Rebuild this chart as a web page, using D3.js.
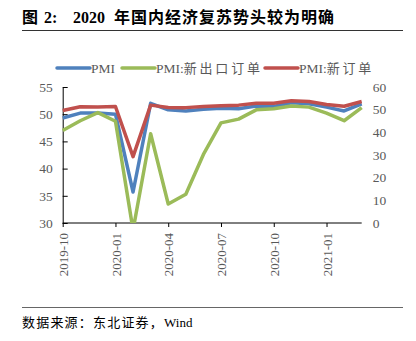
<!DOCTYPE html>
<html><head><meta charset="utf-8">
<script src="https://cdn.jsdelivr.net/npm/d3@7"></script>
<style>
body{margin:0;background:#fff;}
text{font-family:"Liberation Serif","Times New Roman","Noto Sans CJK SC",serif;}
</style></head>
<body><svg id="c" width="416" height="341"></svg>
<script>
const months = ["2019-10","2019-11","2019-12","2020-01","2020-02","2020-03","2020-04","2020-05","2020-06","2020-07","2020-08","2020-09","2020-10","2020-11","2020-12","2021-01","2021-02","2021-03"];
const pmi = [49.3,50.2,50.2,50.0,35.7,52.0,50.8,50.6,50.9,51.1,51.0,51.5,51.4,52.1,51.9,51.3,50.6,51.9];
const exportOrders = [47.0,48.8,50.3,48.7,28.7,46.4,33.5,35.3,42.6,48.4,49.1,50.8,51.0,51.5,51.3,50.2,48.8,51.2];
const newOrders = [49.6,51.3,51.2,51.4,29.3,52.0,51.0,50.9,51.4,51.7,52.0,52.8,52.8,53.9,53.6,52.3,51.5,53.6];
const tickMonths = ["2019-10","2020-01","2020-04","2020-07","2020-10","2021-01"];
const leftTicks = [30,35,40,45,50,55];
const rightTicks = [0,10,20,30,40,50,60];
const seriesPrefix = ["PMI","PMI:","PMI:"];
const seriesSuffix = ["","新出口订单","新订单"];
const colors = ["#4F81BD","#9BBB59","#C0504D"];

const svg = d3.select("#c");
const L = 62.7, R = 361.7, T = 87, B = 223;
const x = d3.scalePoint().domain(months).range([L, R]);
const yL = d3.scaleLinear().domain([30,55]).range([B, T]);
const yR = d3.scaleLinear().domain([0,60]).range([B, T]);
const grey = "#595959";

// Title
const title = svg.append("text").attr("y",23).attr("font-size",16).attr("font-weight","bold").attr("fill","#000");
title.append("tspan").attr("x",22).text("图");
title.append("tspan").attr("x",44).text("2:");
title.append("tspan").attr("x",73).text("2020");
title.append("tspan").attr("x",114).attr("letter-spacing",1).text("年国内经济复苏势头较为明确");
svg.append("line").attr("x1",22).attr("x2",403).attr("y1",30.5).attr("y2",30.5).attr("stroke","#333").attr("stroke-width",1);

// Footer
svg.append("line").attr("x1",22).attr("x2",403).attr("y1",307.5).attr("y2",307.5).attr("stroke","#666").attr("stroke-width",1);
const foot = svg.append("text").attr("y",327).attr("font-size",13).attr("fill","#000");
foot.append("tspan").attr("x",22).attr("letter-spacing",1.2).text("数据来源：");
foot.append("tspan").attr("letter-spacing",1.2).text("东北证券，");
foot.append("tspan").text("Wind");

// clip
svg.append("clipPath").attr("id","pc").append("rect").attr("x",L-2).attr("y",T-5).attr("width",R-L+6).attr("height",B-T+5);

// Left axis
const gL = svg.append("g").attr("transform",`translate(${L},0)`)
  .call(d3.axisLeft(yL).tickValues(leftTicks).tickSizeInner(-5).tickSizeOuter(0).tickPadding(10));
gL.select(".domain").attr("stroke","#000");
gL.selectAll(".tick line").attr("stroke","#000");
gL.selectAll("text").attr("font-size",13.5).attr("fill",grey).attr("font-family","Liberation Serif");

// Right axis
const gR = svg.append("g").attr("transform",`translate(${R},0)`)
  .call(d3.axisRight(yR).tickValues(rightTicks).tickSize(0).tickPadding(11));
gR.select(".domain").remove();
gR.selectAll("text").attr("font-size",13.5).attr("fill",grey).attr("font-family","Liberation Serif");

// Bottom axis
const gB = svg.append("g").attr("transform",`translate(0,${B})`)
  .call(d3.axisBottom(x).tickValues(tickMonths).tickSizeInner(4).tickSizeOuter(0));
gB.select(".domain").attr("stroke","#000").attr("d",`M${L},0H${R}`);
gB.selectAll(".tick line").attr("stroke","#000");
gB.selectAll("text").attr("font-size",13).attr("fill",grey).attr("font-family","Liberation Serif")
  .attr("text-anchor","end").attr("transform","rotate(-90)").attr("x",-10).attr("y",0).attr("dy","0.35em");

// Lines
const lineL = d3.line().x((d,i)=>x(months[i])).y(d=>yL(d));
const lineR = d3.line().x((d,i)=>x(months[i])).y(d=>yR(d));
const gLines = svg.append("g").attr("clip-path","url(#pc)");
gLines.append("path").datum(pmi).attr("d",lineL).attr("fill","none").attr("stroke",colors[0]).attr("stroke-width",3.5).attr("stroke-linejoin","round");
gLines.append("path").datum(exportOrders).attr("d",lineL).attr("fill","none").attr("stroke",colors[1]).attr("stroke-width",3.5).attr("stroke-linejoin","round");
gLines.append("path").datum(newOrders).attr("d",lineR).attr("fill","none").attr("stroke",colors[2]).attr("stroke-width",3.5).attr("stroke-linejoin","round");

// Legend
const legX = [57,122,265];
seriesPrefix.forEach((n,i)=>{
  const g = svg.append("g").attr("transform",`translate(${legX[i]},68)`);
  g.append("line").attr("x1",0).attr("x2",33).attr("stroke",colors[i]).attr("stroke-width",3.5).attr("stroke-linecap","round");
  const t = g.append("text").attr("x",34).attr("y",0).attr("dy","0.35em").attr("font-size",13.5).attr("fill",grey);
  t.append("tspan").text(n);
  t.append("tspan").attr("font-size",13).attr("letter-spacing",2.8).text(seriesSuffix[i]);
});
</script></body></html>
